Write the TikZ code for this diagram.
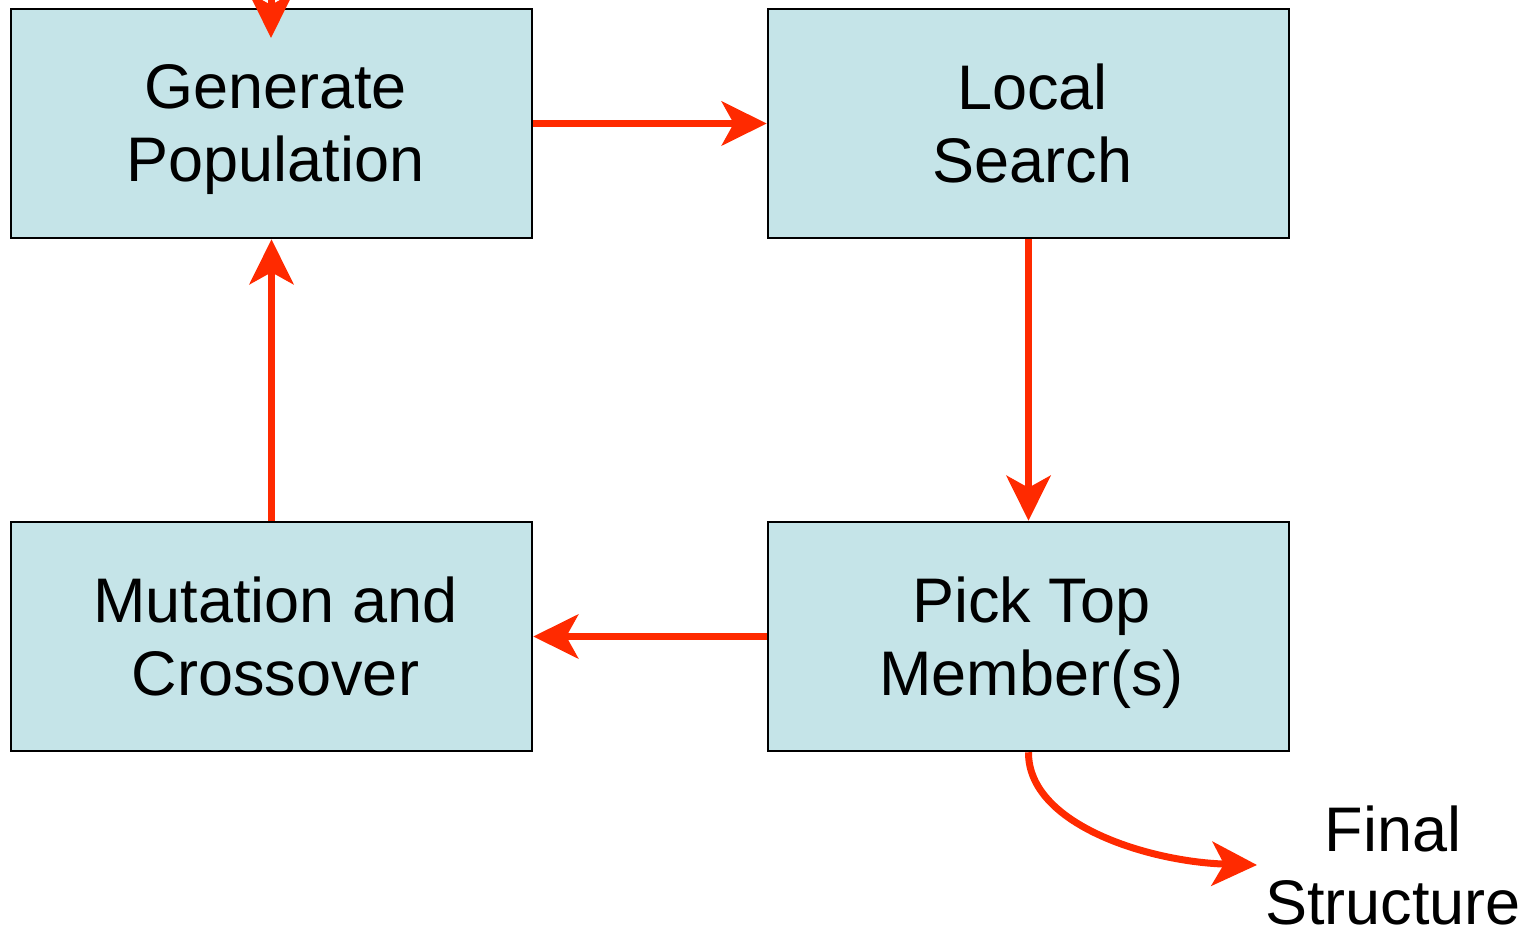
\documentclass[tikz,border=0pt]{standalone}
\usepackage{fontspec}
\setmainfont{Liberation Sans}
\usetikzlibrary{arrows.meta}
\definecolor{boxfill}{HTML}{C5E4E8}
\definecolor{arrred}{HTML}{FF2A00}
\begin{document}
\begin{tikzpicture}[x=1pt,y=-1pt,
  stepbox/.style={draw=black,line width=2.5pt,fill=boxfill,minimum width=521pt,minimum height=229pt,inner sep=0pt,text depth=0pt,align=center,font=\fontsize{63}{73}\selectfont},
  flow/.style={draw=arrred,line width=7pt,-{Stealth[length=45pt,width=44pt,inset=12pt]}},
  lbl/.style={align=center,font=\fontsize{63}{73}\selectfont,inner sep=0pt}]
\useasboundingbox (0,0) rectangle (1535,933);
\node[stepbox] (gp) at (271.5,123.5) {\hspace*{8pt}Generate\\\hspace*{8pt}Population};
\node[stepbox] (ls) at (1028.5,123.5) {\hspace*{8pt}Local\\\hspace*{8pt}Search};
\node[stepbox] (mc) at (271.5,636.5) {\hspace*{8pt}Mutation and\\\hspace*{8pt}Crossover};
\node[stepbox] (pt) at (1028.5,636.5) {\hspace*{6pt}Pick Top\\\hspace*{6pt}Member(s)};
\node[lbl] (fs) at (1393,865) {Final\\Structure};
\coordinate (top) at (271,-30);
\coordinate (gpin) at (271,38);
\coordinate (fsin) at (1257,865);
\draw[flow] (top) -- (gpin);
\draw[flow] (gp.east) -- (ls.west);
\draw[flow] (ls.south) -- (pt.north);
\draw[flow] (pt.west) -- (mc.east);
\draw[flow] (mc.north) -- (gp.south);
\draw[flow] (pt.south) .. controls (1028,825) and (1150,862) .. (fsin);
\end{tikzpicture}
\end{document}
